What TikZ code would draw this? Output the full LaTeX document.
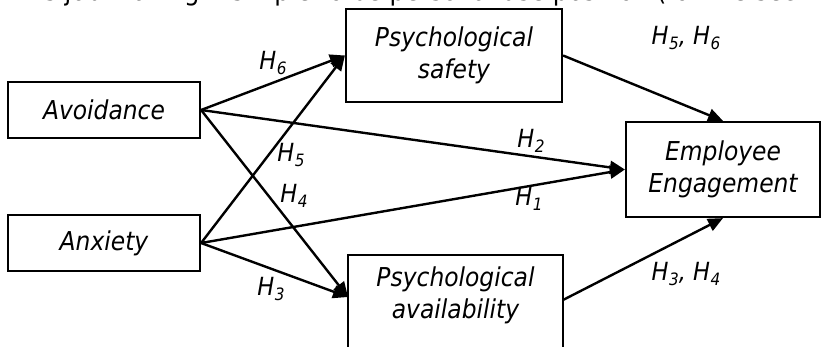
\documentclass[tikz,border=0pt]{standalone}
\usepackage{fontspec}
\setmainfont{DejaVu Sans}[FakeStretch=0.9]
\usetikzlibrary{arrows.meta}
\newcommand\hyp[1]{\textit{H\kern0.5pt\raisebox{-0.35ex}{\fontsize{17}{17}\selectfont #1}}}
\begin{document}
\begin{tikzpicture}[x=1pt,y=-1pt,
  box/.style={draw,line width=2.2pt,inner sep=0pt,align=center,
    font=\fontsize{26}{32}\selectfont\itshape},
  boxtext/.style={inner sep=0pt,align=center,font=\fontsize{26}{32}\selectfont\itshape},
  conn/.style={line width=2.4pt,-{Triangle[length=15pt,width=13pt]}},
  lab/.style={inner sep=0pt,font=\fontsize{25}{25}\selectfont}]
\useasboundingbox (0,0) rectangle (824,347);
\clip (0,0) rectangle (824,347);
% cut-off line of running text at the top
\node[anchor=base,inner sep=0pt,font=\fontsize{27}{27}\selectfont] (toptext) at (412,1)
  {its job making it simple to be personal use position (for the sec};
% boxes
\node[box,minimum width=192pt,minimum height=56pt] (avoid) at (104,110) {Avoidance};
\node[box,minimum width=192pt,minimum height=56pt] (anx) at (104,243) {Anxiety};
\node[box,minimum width=216pt,minimum height=93pt] (safe) at (454,55.5) {Psychological\\safety};
\node[box,minimum width=194pt,minimum height=95pt] (ee) at (723,169.5) {Employee\\Engagement};
\node[box,minimum width=215pt,minimum height=100pt,anchor=north] (avail) at (455.5,254) {};
\node[boxtext] (availtext) at (455.5,295) {Psychological\\availability};
\coordinate (availin) at (348,297);
\coordinate (availout) at (563,300);
% connectors
\draw[conn] (avoid.east) -- (safe.west);
\draw[conn] (avoid.east) -- (ee.west);
\draw[conn] (avoid.east) -- (availin);
\draw[conn] (anx.east) -- (safe.west);
\draw[conn] (anx.east) -- (ee.west);
\draw[conn] (anx.east) -- (availin);
\draw[conn] (safe.east) -- (ee.north);
\draw[conn] (availout) -- (ee.south);
% labels
\node[lab] (h6) at (273,63) {\hyp{6}};
\node[lab] (h5) at (291,155) {\hyp{5}};
\node[lab] (h4) at (294,196) {\hyp{4}};
\node[lab] (h3) at (271,289) {\hyp{3}};
\node[lab] (h2) at (531,141) {\hyp{2}};
\node[lab] (h1) at (529,199) {\hyp{1}};
\node[lab] (h56) at (686,38) {\hyp{5}\textit{, }\hyp{6}};
\node[lab] (h34) at (686,274) {\hyp{3}\textit{, }\hyp{4}};
\end{tikzpicture}
\end{document}
